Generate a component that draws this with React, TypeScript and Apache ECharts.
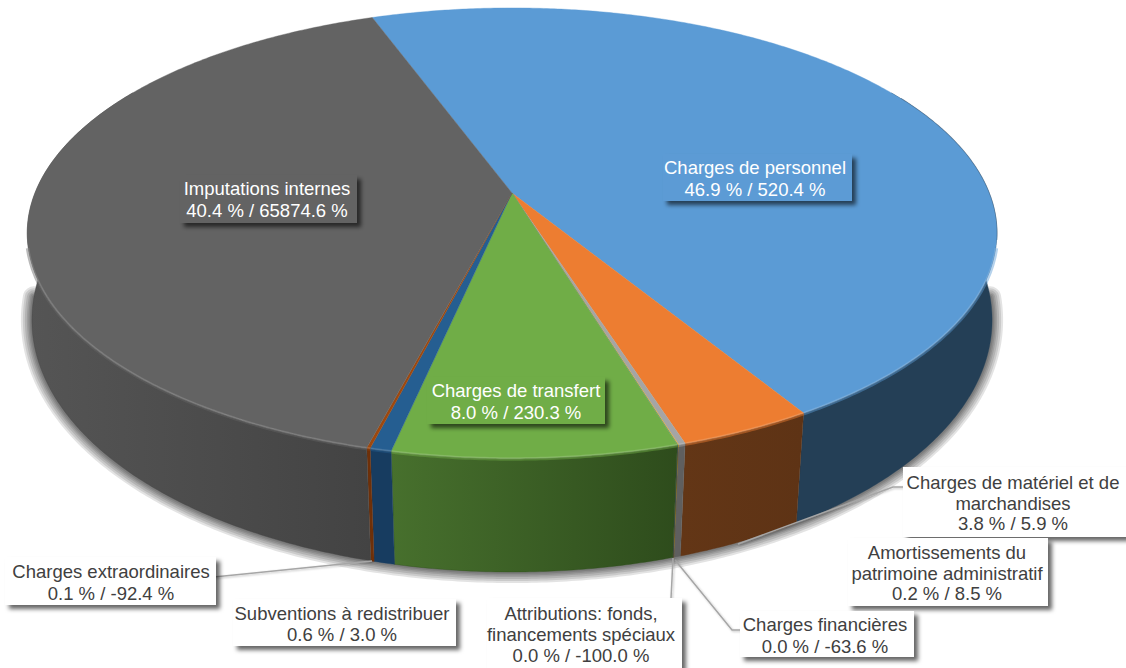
import React, { useEffect, useRef } from "react";
import * as echarts from "echarts";

// Data
const categories = [
  "Charges de personnel",
  "Charges de matériel et de marchandises",
  "Amortissements du patrimoine administratif",
  "Charges financières",
  "Attributions: fonds, financements spéciaux",
  "Charges de transfert",
  "Subventions à redistribuer",
  "Charges extraordinaires",
  "Imputations internes",
];
const shareValues = [46.9, 3.8, 0.2, 0.02, 0.01, 8.0, 0.6, 0.1, 40.4];
const shareLabels = ["46.9 %", "3.8 %", "0.2 %", "0.0 %", "0.0 %", "8.0 %", "0.6 %", "0.1 %", "40.4 %"];
const changeLabels = ["520.4 %", "5.9 %", "8.5 %", "-63.6 %", "-100.0 %", "230.3 %", "3.0 %", "-92.4 %", "65874.6 %"];

// Styles
const topColors = ["#5B9BD5", "#ED7D31", "#A5A5A5", "#FFC000", "#4472C4", "#70AD47", "#255E91", "#9E480E", "#636363"];
const wallLeft = ["#243F56", "#633616", "#5F5F5F", "#7F6000", "#223962", "#47702D", "#173C60", "#6E3009", "#555555"];
const wallRight = ["#243F56", "#5E3315", "#5F5F5F", "#7F6000", "#223962", "#2E4C1C", "#173C60", "#6E3009", "#434343"];
const haloWidths = [22, 18, 14, 10, 7, 4];

// Projection of the two discs
const START = -20;
const TOP = { x: 512, y: 193, a: 477, b: 218, p: 0.178 };
const BOT = { x: 512, y: 280, a: 474, b: 245.6, p: 0.159 };
const WALL_FROM = 60;
const WALL_TO = 300;
const RIM_FROM = 104;
const RIM_TO = 256;

const total = shareValues.reduce((s, v) => s + v, 0);
const rad = (d: number) => (d * Math.PI) / 180;
const project = (disc: typeof TOP, deg: number) => {
  const X = Math.sin(rad(deg));
  const Y = -Math.cos(rad(deg));
  const w = 1 - disc.p * Y;
  return [disc.x + (disc.a * X) / w, disc.y + (disc.b * Y) / w];
};
const arc = (disc: typeof TOP, from: number, to: number) => {
  const n = Math.max(2, Math.ceil(Math.abs(to - from) / 0.5));
  const out: number[][] = [];
  for (let i = 0; i <= n; i++) out.push(project(disc, from + ((to - from) * i) / n));
  return out;
};
const sliceRange = (index: number, value: number) => {
  let before = 0;
  for (let i = 0; i < index; i++) before += shareValues[i];
  const a = START + (before / total) * 360;
  return [a, a + (value / total) * 360];
};

// Label layout
const labelFont = "Liberation Sans";
const labelLayout = [
  { box: [663, 154, 189, 47], cx: 755, lines: [167, 189], lead: null, inside: true },
  { box: [903, 467, 223, 70], cx: 1013, lines: [482, 503, 523], lead: [[903, 487], [893, 487], [738, 544]], inside: false },
  { box: [848, 538, 200, 68], cx: 947, lines: [552, 573, 593], lead: [[866, 557], [678, 557]], inside: false },
  { box: [740, 611, 174, 46], cx: 825, lines: [624, 646], lead: [[741, 630], [732, 630], [675, 560]], inside: false },
  { box: [487, 598, 195, 80], cx: 581, lines: [613, 634, 655], lead: [[660, 619], [670, 619], [673, 558]], inside: false },
  { box: [427, 377, 178, 47], cx: 516, lines: [390, 412], lead: null, inside: true },
  { box: [233, 599, 223, 47], cx: 342, lines: [613, 634], lead: [[385, 600], [385, 564]], inside: false },
  { box: [5, 557, 211, 48], cx: 111, lines: [571, 593], lead: [[214, 577], [372, 561]], inside: false },
  { box: [180, 175, 177, 48], cx: 267, lines: [188, 210], lead: null, inside: true },
];
const wrappedNames = [
  ["Charges de personnel"],
  ["Charges de matériel et de", "marchandises"],
  ["Amortissements du", "patrimoine administratif"],
  ["Charges financières"],
  ["Attributions: fonds,", "financements spéciaux"],
  ["Charges de transfert"],
  ["Subventions à redistribuer"],
  ["Charges extraordinaires"],
  ["Imputations internes"],
];

export default function App() {
  const ref = useRef<HTMLDivElement>(null);
  useEffect(() => {
    document.body.style.margin = "0";
    const chart = echarts.init(ref.current!, null, { renderer: "svg" });

    const graphics: any[] = [];
    labelLayout.forEach((l) => {
      if (l.lead) {
        graphics.push({
          type: "polyline",
          z: 20,
          shape: { points: l.lead },
          style: { fill: "none", stroke: "#A6A6A6", lineWidth: 1.5, shadowColor: "rgba(0,0,0,0.25)", shadowBlur: 2, shadowOffsetX: 1, shadowOffsetY: 1 },
        });
      }
    });
    labelLayout.forEach((l, i) => {
      graphics.push({
        type: "rect",
        z: 21,
        shape: { x: l.box[0], y: l.box[1], width: l.box[2], height: l.box[3] },
        style: {
          fill: l.inside ? topColors[i] : "#FFFFFF",
          shadowColor: "rgba(0,0,0,0.6)",
          shadowBlur: 4,
          shadowOffsetX: 4,
          shadowOffsetY: 4,
        },
      });
      const texts = [...wrappedNames[i], `${shareLabels[i]} / ${changeLabels[i]}`];
      texts.forEach((t, k) => {
        graphics.push({
          type: "text",
          z: 22,
          x: l.cx,
          y: l.lines[k],
          style: {
            text: t,
            font: `18.5px "${labelFont}"`,
            fill: l.inside ? "#FFFFFF" : "#404040",
            align: "center",
            verticalAlign: "middle",
          },
        });
      });
    });

    chart.setOption({
      animation: false,
      backgroundColor: "#FFFFFF",
      graphic: graphics,
      series: [
        {
          type: "custom",
          name: "Ombre",
          coordinateSystem: "none",
          silent: true,
          clip: false,
          z: 1,
          data: [total],
          renderItem: () => ({
            type: "group",
            children: [
              ...haloWidths.map((w) => ({
                type: "polyline",
                shape: { points: arc(BOT, 94, 266) },
                style: { fill: "none", stroke: "#000000", lineWidth: w, lineCap: "round", lineJoin: "round", opacity: 0.11 },
              })),
              {
                type: "polyline",
                shape: { points: arc(TOP, 62, 102) },
                style: { fill: "none", stroke: "#2C4A66", lineWidth: 1.5, opacity: 0.6 },
              },
            ],
          }),
        },
        {
          type: "custom",
          name: "Parois",
          coordinateSystem: "none",
          silent: true,
          clip: false,
          z: 2,
          data: shareValues,
          renderItem: (params: any, api: any) => {
            const i = params.dataIndex;
            const [a0, a1] = sliceRange(i, api.value(0));
            const from = Math.max(a0, WALL_FROM);
            const to = Math.min(a1, WALL_TO);
            if (to <= from) return { type: "group", children: [] };
            const fill = {
              type: "linear",
              x: 0,
              y: 0,
              x2: 1,
              y2: 0,
              colorStops: [
                { offset: 0, color: wallLeft[i] },
                { offset: 1, color: wallRight[i] },
              ],
            };
            const rimFrom = Math.max(a0, RIM_FROM);
            const rimTo = Math.min(a1, RIM_TO);
            return {
              type: "group",
              children: [
                {
                  type: "polygon",
                  shape: { points: [...arc(TOP, from, to), ...arc(BOT, to, from)] },
                  style: { fill, stroke: wallRight[i], lineWidth: 0.4 },
                },
                {
                  type: "polyline",
                  shape: { points: arc(TOP, rimFrom, rimTo) },
                  style: { fill: "none", stroke: topColors[i], lineWidth: 5, opacity: 0.45 },
                },
              ],
            };
          },
        },
        {
          type: "custom",
          name: "Parts",
          coordinateSystem: "none",
          silent: true,
          clip: false,
          z: 3,
          data: shareValues,
          renderItem: (params: any, api: any) => {
            const i = params.dataIndex;
            const [a0, a1] = sliceRange(i, api.value(0));
            const rimFrom = Math.max(a0, RIM_FROM);
            const rimTo = Math.min(a1, RIM_TO);
            return {
              type: "group",
              children: [
                {
                  type: "polygon",
                  shape: { points: [[TOP.x, TOP.y], ...arc(TOP, a0, a1)] },
                  style: { fill: topColors[i], stroke: topColors[i], lineWidth: 0.4 },
                },
                {
                  type: "polyline",
                  shape: { points: arc(TOP, rimFrom, rimTo) },
                  style: { fill: "none", stroke: "#FFFFFF", lineWidth: 2, opacity: 0.14 },
                },
              ],
            };
          },
        },
      ],
    });
    return () => chart.dispose();
  }, []);
  return <div ref={ref} style={{ width: 1126, height: 668, position: "absolute", left: 0, top: 0 }} />;
}
